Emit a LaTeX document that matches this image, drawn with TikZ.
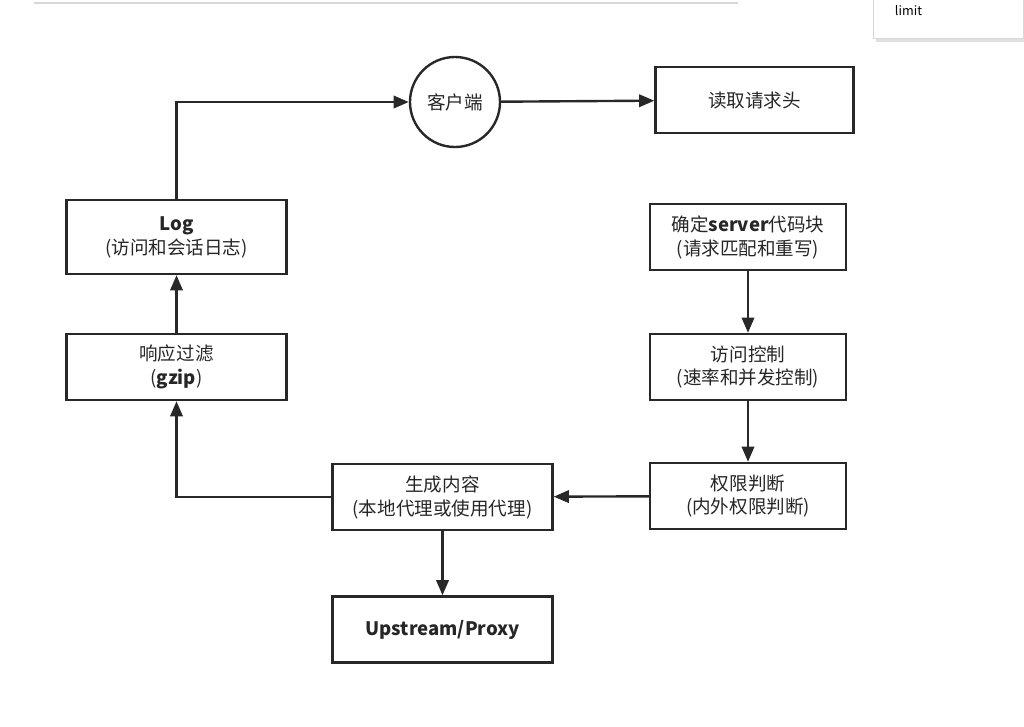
\documentclass[tikz,border=0pt]{standalone}
\usepackage{fontspec}
\setmainfont{Noto Sans CJK SC}
\usepackage{tikz}
\usetikzlibrary{
    arrows.meta,
    positioning,
    shapes.geometric
}
\usepackage{xcolor}
\definecolor{linegray}{RGB}{40,40,40}
\definecolor{framegray}{RGB}{215,215,215}

\begin{document}
\begin{tikzpicture}[
    x=0.025cm, y=-0.025cm,
    stepbox/.style={rectangle, draw=linegray, line width=1.7pt, minimum height=1.65cm, align=center, font=\fontsize{13.2pt}{17pt}\selectfont, text=black!85},
    client/.style={circle, draw=linegray, line width=1.7pt, minimum size=2.25cm, font=\fontsize{13.2pt}{17pt}\selectfont, text=black!85},
    arrow/.style={-{Triangle[length=3.8mm, width=3.1mm]}, line width=1.7pt, draw=linegray}
]
\useasboundingbox (0,0) rectangle (1024,726);

% === SCREEN FRAME (top) ===
\draw[framegray, line width=0.8pt] (34,3) -- (738,3);
\fill[black!12] (876,-5) rectangle (1024,42);
\node[rectangle, draw=framegray, fill=white, minimum width=3.75cm, minimum height=1.15cm, anchor=north west, inner sep=0pt] (limitbox) at (873,-8) {};
\node[font=\fontsize{9pt}{10pt}\selectfont, anchor=west] (limit) at (890,11) {limit};

% === REQUEST SIDE ===
\node[client] (client) at (455,102) {客户端};
\node[stepbox, minimum width=4.95cm] (readhdr) at (754.5,100) {读取请求头};
\node[stepbox, minimum width=4.9cm] (server) at (748,237) {确定\textbf{server}代码块\\(请求匹配和重写)};
\node[stepbox, minimum width=4.9cm] (access) at (748,367) {访问控制\\(速率和并发控制)};
\node[stepbox, minimum width=4.9cm] (auth) at (748,496) {权限判断\\(内外权限判断)};

% === RESPONSE SIDE ===
\node[stepbox, minimum width=5.5cm] (content) at (442.5,497) {生成内容\\(本地代理或使用代理)};
\node[stepbox, minimum width=5.5cm] (upstream) at (442.5,629.5) {\textbf{Upstream/Proxy}};
\node[stepbox, minimum width=5.5cm] (filter) at (176.5,367) {响应过滤\\(\textbf{gzip})};
\node[stepbox, minimum width=5.5cm, minimum height=1.85cm] (log) at (176.5,237) {\textbf{Log}\\(访问和会话日志)};

% Connections
\draw[arrow] (client) -- (readhdr);
\draw[arrow] (server) -- (access);
\draw[arrow] (access) -- (auth);
\draw[arrow] (auth) -- (content);
\draw[arrow] (content) -- (upstream);
\draw[arrow] (content.west) -| (filter.south);
\draw[arrow] (filter) -- (log);
\draw[arrow] (log.north) |- (client.west);

\end{tikzpicture}
\end{document}
